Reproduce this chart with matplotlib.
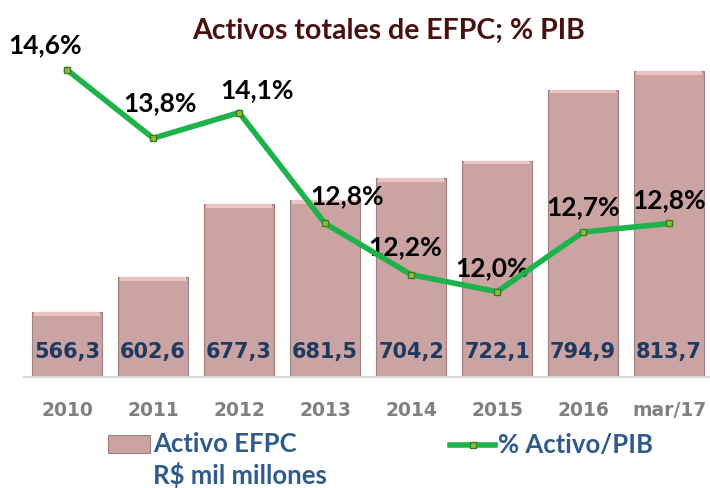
import numpy as np
import matplotlib.pyplot as plt
from matplotlib.lines import Line2D
from matplotlib.patches import Rectangle

# ---- data ----
periods = ["2010", "2011", "2012", "2013", "2014", "2015", "2016", "mar/17"]
activo = [566.3, 602.6, 677.3, 681.5, 704.2, 722.1, 794.9, 813.7]
pct_pib = [14.6, 13.8, 14.1, 12.8, 12.2, 12.0, 12.7, 12.8]

# label offsets (points) for the % labels, relative to each point
pct_offsets = [(-16, 18), (5, 25), (13, 16), (16, 20), (-4, 20), (-4, 17), (0, 18), (0, 17)]

bar_face = "#cba3a3"
bar_edge = "#9c8080"
line_col = "#1db34a"
navy = "#1f3a60"
legend_blue = "#2e5a8c"

fig = plt.figure(figsize=(7.10, 4.88), dpi=100)
ax = fig.add_axes([0.034, 0.2275, 0.969, 0.699])
x = np.arange(len(periods))

ax.bar(x, np.array(activo) - 500, bottom=500, width=0.81,
       color=bar_face, edgecolor=bar_edge, linewidth=0.8, zorder=2)
# light bevel strip on top of each bar
for xi, v in zip(x, activo):
    ax.bar(xi, 4, bottom=v - 4, width=0.77, color="#ecc4c4", linewidth=0, zorder=3)

ax.set_ylim(500, 850)
ax.set_xlim(-0.5, 7.5)
ax.set_yticks([])
for s in ["left", "right", "top"]:
    ax.spines[s].set_visible(False)
ax.spines["bottom"].set_color("#d9d9d9")
ax.spines["bottom"].set_linewidth(1.5)
ax.set_xticks(x)
ax.set_xticklabels(periods, fontsize=13.5, fontweight="bold", color="#808080",
                   family="DejaVu Sans")
ax.tick_params(axis="x", length=0, pad=17)

for xi, v in zip(x, activo):
    ax.text(xi, 0.073, f"{v:.1f}".replace(".", ","), transform=ax.get_xaxis_transform(),
            ha="center", va="center", fontsize=15, fontweight="bold", color=navy,
            family="DejaVu Sans", zorder=5)

ax2 = ax.twinx()
ax2.set_ylim(11.0, 15.0)
ax2.set_yticks([])
for s in ax2.spines.values():
    s.set_visible(False)
ax2.plot(x, pct_pib, color=line_col, lw=4, solid_joinstyle="miter", zorder=4,
         marker="s", markersize=5, markerfacecolor="#8fbf3a", markeredgecolor="#3d7a25")
for xi, v, off in zip(x, pct_pib, pct_offsets):
    ax2.annotate(f"{v:.1f}%".replace(".", ","), (xi, v), xytext=off,
                 textcoords="offset points", ha="center", va="center",
                 fontsize=19, fontweight="bold", color="black", family="Lato")

fig.text(0.547, 0.936, "Activos totales de EFPC; % PIB", ha="center", va="center",
         fontsize=20.5, fontweight="bold", color="#4a1010", family="Lato")

# legend, drawn by hand in figure coordinates
fig.patches.append(Rectangle((0.152, 0.072), 0.059, 0.037, transform=fig.transFigure,
                             facecolor=bar_face, edgecolor=bar_edge, lw=0.8))
fig.text(0.2155, 0.090, "Activo EFPC", ha="left", va="center", fontsize=18.5,
         fontweight="bold", color=legend_blue, family="Lato")
fig.text(0.2155, 0.026, "R$ mil millones", ha="left", va="center", fontsize=18.5,
         fontweight="bold", color=legend_blue, family="Lato")
fig.lines.append(Line2D([0.634, 0.697], [0.088, 0.088], transform=fig.transFigure,
                        color=line_col, lw=4))
fig.lines.append(Line2D([0.6655], [0.088], transform=fig.transFigure, marker="s",
                        markersize=5, markerfacecolor="#8fbf3a", markeredgecolor="#3d7a25"))
fig.text(0.701, 0.088, "% Activo/PIB", ha="left", va="center", fontsize=18.5,
         fontweight="bold", color=legend_blue, family="Lato")

fig.savefig("out.png", dpi=100)
